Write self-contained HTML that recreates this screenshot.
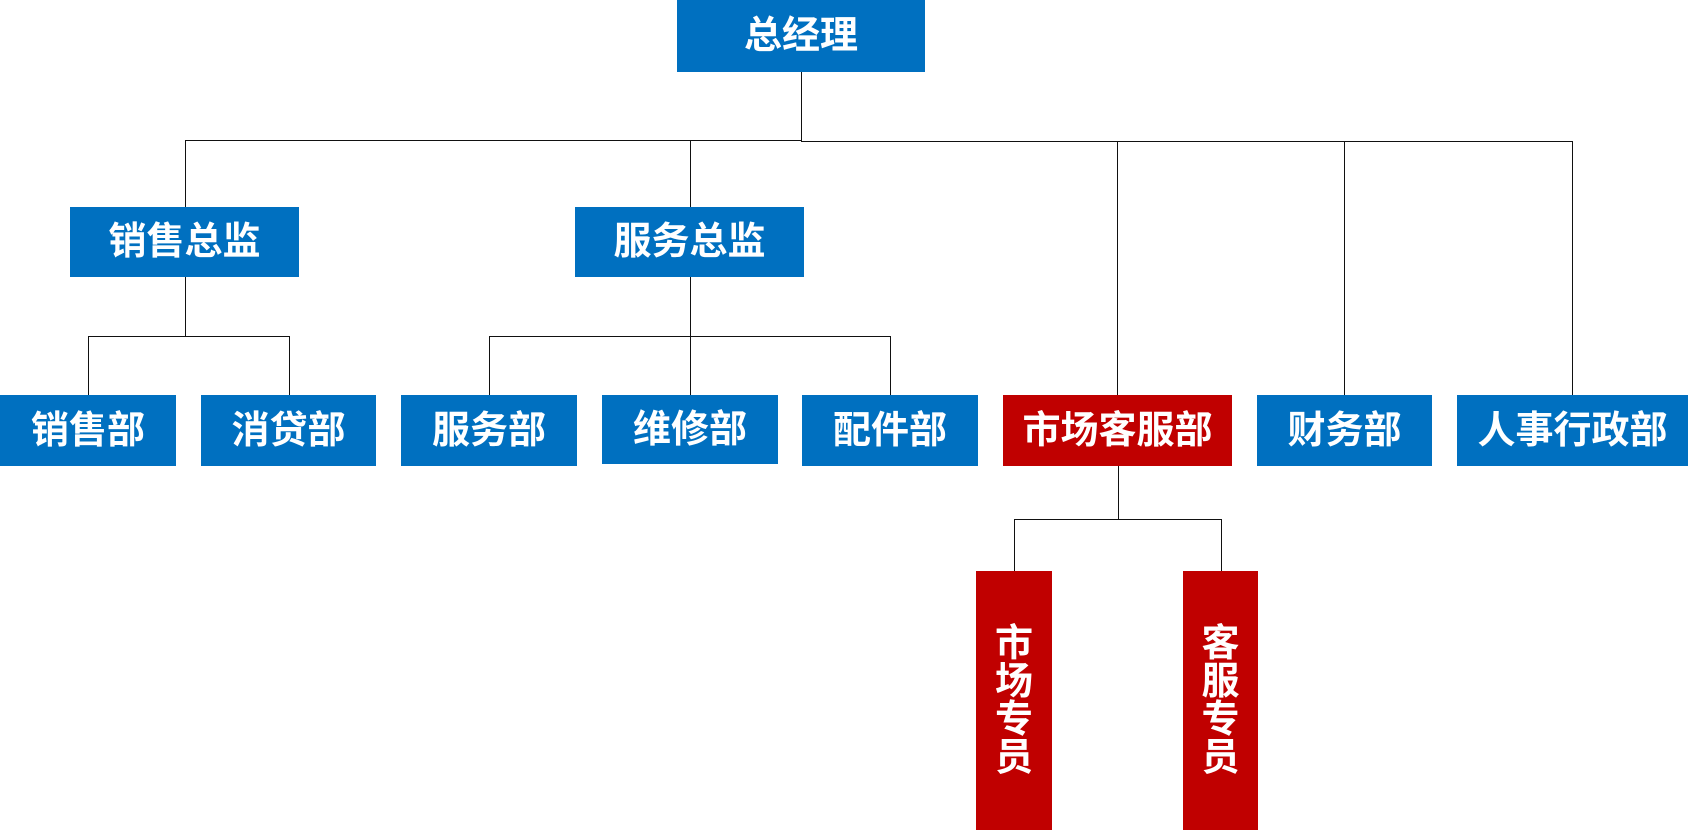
<!DOCTYPE html>
<html>
<head>
<meta charset="utf-8">
<style>
  html, body { margin:0; padding:0; background:#fff; }
  body { width:1690px; height:830px; position:relative; overflow:hidden;
         font-family:"Liberation Sans","Noto Sans CJK SC","WenQuanYi Zen Hei",sans-serif; }
  .b { position:absolute; background:#0070C0; color:#fff; font-weight:700; font-size:38px;
       display:flex; align-items:center; justify-content:center; white-space:nowrap; line-height:1; }
  .r { background:#C00000; }
  .v { flex-direction:column; }
  .v span { display:block; height:38px; line-height:38px; }
  .h { position:absolute; height:1px; background:#111; }
  .l { position:absolute; width:1px; background:#111; }
</style>
</head>
<body>
<!-- connectors -->
<div class="l" style="left:801px;top:72px;height:69px;"></div>
<div class="h" style="left:185px;top:140px;width:617px;"></div>
<div class="h" style="left:801px;top:141px;width:772px;"></div>
<div class="l" style="left:185px;top:140px;height:67px;"></div>
<div class="l" style="left:690px;top:140px;height:67px;"></div>
<div class="l" style="left:1117px;top:141px;height:254px;"></div>
<div class="l" style="left:1344px;top:141px;height:254px;"></div>
<div class="l" style="left:1572px;top:141px;height:254px;"></div>

<div class="l" style="left:185px;top:277px;height:60px;"></div>
<div class="h" style="left:88px;top:336px;width:202px;"></div>
<div class="l" style="left:88px;top:336px;height:59px;"></div>
<div class="l" style="left:289px;top:336px;height:59px;"></div>

<div class="l" style="left:690px;top:277px;height:118px;"></div>
<div class="h" style="left:489px;top:336px;width:402px;"></div>
<div class="l" style="left:489px;top:336px;height:59px;"></div>
<div class="l" style="left:890px;top:336px;height:59px;"></div>

<div class="l" style="left:1118px;top:466px;height:53px;"></div>
<div class="h" style="left:1014px;top:519px;width:208px;"></div>
<div class="l" style="left:1014px;top:519px;height:52px;"></div>
<div class="l" style="left:1221px;top:519px;height:52px;"></div>

<!-- boxes -->
<div class="b" style="left:677px;top:0;width:248px;height:72px;">总经理</div>
<div class="b" style="left:70px;top:207px;width:229px;height:70px;">销售总监</div>
<div class="b" style="left:575px;top:207px;width:229px;height:70px;">服务总监</div>

<div class="b" style="left:0;top:395px;width:176px;height:71px;">销售部</div>
<div class="b" style="left:201px;top:395px;width:175px;height:71px;">消贷部</div>
<div class="b" style="left:401px;top:395px;width:176px;height:71px;">服务部</div>
<div class="b" style="left:602px;top:395px;width:176px;height:69px;">维修部</div>
<div class="b" style="left:802px;top:395px;width:176px;height:71px;">配件部</div>
<div class="b r" style="left:1003px;top:395px;width:229px;height:71px;">市场客服部</div>
<div class="b" style="left:1257px;top:395px;width:175px;height:71px;">财务部</div>
<div class="b" style="left:1457px;top:395px;width:231px;height:71px;">人事行政部</div>

<div class="b r v" style="left:976px;top:571px;width:76px;height:259px;"><span>市</span><span>场</span><span>专</span><span>员</span></div>
<div class="b r v" style="left:1183px;top:571px;width:75px;height:259px;"><span>客</span><span>服</span><span>专</span><span>员</span></div>
</body>
</html>
